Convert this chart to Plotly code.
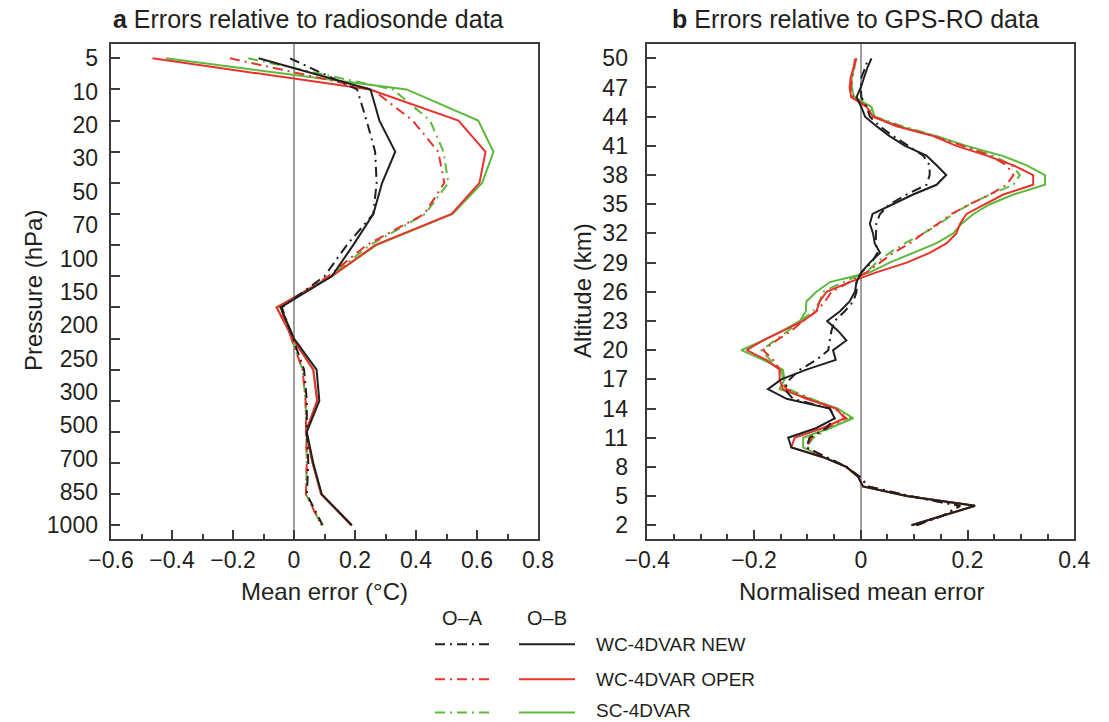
import plotly.graph_objects as go

W, H = 1109, 722

# ---------------- Panel a: radiosonde (16 levels, top -> bottom) ----------------
pressure_labels = ["5", "10", "20", "30", "50", "70", "100", "150", "200",
                   "250", "300", "500", "700", "850", "1000"]
level_index = list(range(16))  # analysed levels, 0 = top (5 hPa)

a_new_ob = [-0.116, 0.251, 0.280, 0.332, 0.289, 0.260, 0.194, 0.124,
            -0.044, 0.000, 0.074, 0.083, 0.042, 0.063, 0.091, 0.190]
a_new_oa = [-0.013, 0.207, 0.238, 0.266, 0.271, 0.260, 0.173, 0.100,
            -0.040, -0.004, 0.033, 0.042, 0.042, 0.047, 0.042, 0.094]
a_oper_ob = [-0.464, 0.249, 0.539, 0.628, 0.608, 0.517, 0.266, 0.124,
             -0.057, -0.004, 0.063, 0.076, 0.039, 0.061, 0.089, 0.188]
a_oper_oa = [-0.210, 0.257, 0.389, 0.473, 0.493, 0.427, 0.238, 0.112,
             -0.045, -0.008, 0.028, 0.038, 0.039, 0.042, 0.039, 0.090]
a_sc_ob = [-0.420, 0.369, 0.604, 0.654, 0.617, 0.520, 0.270, 0.124,
           -0.057, -0.004, 0.063, 0.076, 0.039, 0.061, 0.089, 0.188]
a_sc_oa = [-0.150, 0.325, 0.446, 0.490, 0.506, 0.430, 0.249, 0.118,
           -0.045, -0.008, 0.028, 0.038, 0.039, 0.042, 0.039, 0.090]

# ---------------- Panel b: GPS-RO (altitude 2..50 km) ----------------
altitude_km = list(range(2, 51))
altitude_ticks = list(range(2, 51, 3))

b_new_ob = [0.095, 0.154, 0.214, 0.086, 0.004, -0.005, -0.027, -0.071, -0.130, -0.136,
            -0.083, -0.049, -0.058, -0.139, -0.174, -0.149, -0.102, -0.047, -0.052, -0.027,
            -0.043, -0.063, -0.039, -0.021, -0.011, -0.008, 0.001, 0.017, 0.036, 0.026,
            0.023, 0.017, 0.022, 0.060, 0.098, 0.142, 0.160, 0.142, 0.123, 0.083,
            0.054, 0.030, 0.008, 0.001, -0.008, 0.000, 0.006, 0.012, 0.020]
b_new_oa = [0.104, 0.154, 0.186, 0.092, 0.014, -0.002, -0.027, -0.064, -0.102, -0.096,
            -0.064, -0.049, -0.058, -0.127, -0.143, -0.133, -0.114, -0.083, -0.061, -0.058,
            -0.055, -0.049, -0.030, -0.014, -0.008, -0.008, 0.001, 0.020, 0.031, 0.028,
            0.029, 0.029, 0.036, 0.054, 0.086, 0.123, 0.129, 0.129, 0.117, 0.089,
            0.061, 0.036, 0.017, 0.011, 0.001, 0.000, 0.001, 0.008, 0.014]
b_oper_ob = [0.095, 0.154, 0.214, 0.086, 0.004, -0.005, -0.027, -0.070, -0.130, -0.124,
             -0.071, -0.030, -0.046, -0.102, -0.146, -0.152, -0.152, -0.177, -0.214, -0.183,
             -0.146, -0.108, -0.083, -0.077, -0.064, -0.021, 0.029, 0.086, 0.129, 0.161,
             0.179, 0.186, 0.198, 0.233, 0.267, 0.323, 0.323, 0.286, 0.236, 0.179,
             0.136, 0.067, 0.023, 0.011, -0.018, -0.021, -0.019, -0.014, -0.008]
b_oper_oa = [0.104, 0.154, 0.186, 0.092, 0.014, -0.002, -0.027, -0.064, -0.103, -0.092,
             -0.064, -0.027, -0.049, -0.099, -0.139, -0.152, -0.152, -0.164, -0.183, -0.158,
             -0.130, -0.108, -0.083, -0.067, -0.055, -0.021, 0.011, 0.036, 0.061, 0.092,
             0.117, 0.145, 0.170, 0.204, 0.242, 0.273, 0.286, 0.273, 0.242, 0.192,
             0.136, 0.073, 0.023, 0.011, -0.014, -0.019, -0.017, -0.013, -0.011]
b_sc_ob = [0.095, 0.154, 0.214, 0.086, 0.004, -0.005, -0.027, -0.070, -0.108, -0.108,
           -0.058, -0.014, -0.043, -0.096, -0.152, -0.143, -0.146, -0.183, -0.224, -0.183,
           -0.146, -0.114, -0.103, -0.102, -0.083, -0.058, 0.017, 0.054, 0.098, 0.142,
           0.173, 0.189, 0.211, 0.242, 0.286, 0.345, 0.345, 0.311, 0.264, 0.198,
           0.142, 0.073, 0.026, 0.020, -0.012, -0.018, -0.017, -0.013, -0.009]
b_sc_oa = [0.104, 0.154, 0.186, 0.092, 0.014, -0.002, -0.027, -0.064, -0.102, -0.089,
           -0.058, -0.017, -0.046, -0.092, -0.136, -0.146, -0.148, -0.170, -0.186, -0.161,
           -0.136, -0.114, -0.089, -0.077, -0.071, -0.033, 0.011, 0.029, 0.054, 0.083,
           0.117, 0.148, 0.173, 0.204, 0.242, 0.286, 0.298, 0.283, 0.248, 0.192,
           0.142, 0.079, 0.026, 0.016, -0.012, -0.017, -0.016, -0.012, -0.010]

series_names = ["WC-4DVAR NEW", "WC-4DVAR OPER", "SC-4DVAR"]
colors = {"WC-4DVAR NEW": "#231f20", "WC-4DVAR OPER": "#e8332c", "SC-4DVAR": "#5cb93c"}
DASHDOT = "10px,5px,2px,5px"
FONT = "Liberation Sans, Arial, sans-serif"
TXT = "#231f20"

fig = go.Figure()

a_data = {"WC-4DVAR NEW": (a_new_oa, a_new_ob),
          "WC-4DVAR OPER": (a_oper_oa, a_oper_ob),
          "SC-4DVAR": (a_sc_oa, a_sc_ob)}
b_data = {"WC-4DVAR NEW": (b_new_oa, b_new_ob),
          "WC-4DVAR OPER": (b_oper_oa, b_oper_ob),
          "SC-4DVAR": (b_sc_oa, b_sc_ob)}

for name in ["SC-4DVAR", "WC-4DVAR OPER", "WC-4DVAR NEW"]:
    oa, ob = a_data[name]
    fig.add_trace(go.Scatter(x=oa, y=level_index, mode="lines", xaxis="x", yaxis="y",
                             line=dict(color=colors[name], width=2, dash=DASHDOT),
                             showlegend=False, name=name + " O-A"))
    fig.add_trace(go.Scatter(x=ob, y=level_index, mode="lines", xaxis="x", yaxis="y",
                             line=dict(color=colors[name], width=2),
                             showlegend=False, name=name + " O-B"))
for name in ["SC-4DVAR", "WC-4DVAR OPER", "WC-4DVAR NEW"]:
    oa, ob = b_data[name]
    fig.add_trace(go.Scatter(x=oa, y=altitude_km, mode="lines", xaxis="x2", yaxis="y2",
                             line=dict(color=colors[name], width=2, dash=DASHDOT),
                             showlegend=False, name=name + " O-A"))
    fig.add_trace(go.Scatter(x=ob, y=altitude_km, mode="lines", xaxis="x2", yaxis="y2",
                             line=dict(color=colors[name], width=2),
                             showlegend=False, name=name + " O-B"))

# geometry (pixels)
ax_l, ax_r = 111, 538
bx_l, bx_r = 647.3, 1074.3
p_top, p_bot = 44, 539
ydom = [1 - p_bot / H, 1 - p_top / H]

n_lab = len(pressure_labels)
label_pos = [i * (len(level_index) - 1) / (n_lab - 1) for i in range(n_lab)]
a_range = [15.44, -0.46]

# invisible carrier trace so the pressure-label axis (y3) is drawn
fig.add_trace(go.Scatter(x=[0] * n_lab, y=label_pos, xaxis="x", yaxis="y3", mode="markers",
                         marker=dict(opacity=0, size=1), hoverinfo="skip", showlegend=False))

TICKF = dict(family=FONT, size=23, color=TXT)
frame = dict(showline=True, linecolor="#3c3c3c", linewidth=1.5, mirror=True,
             showgrid=False, tickcolor="#3c3c3c", tickwidth=1.5, tickfont=TICKF)

fig.update_layout(
    width=W, height=H, margin=dict(l=0, r=0, t=0, b=0, autoexpand=False),
    plot_bgcolor="white", paper_bgcolor="white", showlegend=False,
    xaxis=dict(domain=[ax_l / W, ax_r / W], anchor="y", range=[-0.6, 0.8],
               tickvals=[-0.6, -0.4, -0.2, 0, 0.2, 0.4, 0.6, 0.8],
               ticks="inside", ticklen=9, ticklabelstandoff=0,
               minor=dict(dtick=0.1, ticks="inside", ticklen=5, tickcolor="#3c3c3c", tickwidth=1.5),
               zeroline=True, zerolinecolor="#a0a0a0", zerolinewidth=1.5, **frame),
    yaxis=dict(domain=ydom, anchor="x", range=a_range, tickvals=level_index,
               ticktext=[""] * len(level_index), ticks="inside", ticklen=9,
               zeroline=False, **frame),
    yaxis3=dict(overlaying="y", anchor="x", side="left", range=a_range,
                tickvals=label_pos, ticktext=pressure_labels, ticks="",
                showline=False, showgrid=False, zeroline=False, ticklabelstandoff=12,
                tickfont=TICKF),
    xaxis2=dict(domain=[bx_l / W, bx_r / W], anchor="y2", range=[-0.4, 0.4],
                tickvals=[-0.4, -0.2, 0, 0.2, 0.4],
                ticks="inside", ticklen=9, ticklabelstandoff=0,
                minor=dict(dtick=0.05, ticks="inside", ticklen=5, tickcolor="#3c3c3c", tickwidth=1.5),
                zeroline=True, zerolinecolor="#a0a0a0", zerolinewidth=1.5, **frame),
    yaxis2=dict(domain=ydom, anchor="x2", range=[0.59, 51.47], tickvals=altitude_ticks,
                ticks="inside", ticklen=9, ticklabelstandoff=13, zeroline=False, **frame),
)

def px(x):
    return x / W

def py(y):
    return 1 - y / H

ann = []
ann.append(dict(x=px(111), y=py(19), xref="paper", yref="paper", xanchor="left", yanchor="middle",
                text="<b>a</b> Errors relative to radiosonde data", showarrow=False,
                font=dict(family=FONT, size=25, color=TXT)))
ann.append(dict(x=px(670), y=py(19), xref="paper", yref="paper", xanchor="left", yanchor="middle",
                text="<b>b</b> Errors relative to GPS-RO data", showarrow=False,
                font=dict(family=FONT, size=25, color=TXT)))
ann.append(dict(x=px(324.5), y=py(591), xref="paper", yref="paper", xanchor="center", yanchor="middle",
                text="Mean error (°C)", showarrow=False, font=dict(family=FONT, size=24, color=TXT)))
ann.append(dict(x=px(861), y=py(591), xref="paper", yref="paper", xanchor="center", yanchor="middle",
                text="Normalised mean error", showarrow=False, font=dict(family=FONT, size=24, color=TXT)))
ann.append(dict(x=px(33), y=py(291), xref="paper", yref="paper", xanchor="center", yanchor="middle",
                text="Pressure (hPa)", textangle=-90, showarrow=False,
                font=dict(family=FONT, size=24, color=TXT)))
ann.append(dict(x=px(582), y=py(291), xref="paper", yref="paper", xanchor="center", yanchor="middle",
                text="Altitude (km)", textangle=-90, showarrow=False,
                font=dict(family=FONT, size=24, color=TXT)))

# legend (drawn manually as in the original)
ann.append(dict(x=px(462.5), y=py(618), xref="paper", yref="paper", xanchor="center", yanchor="middle",
                text="O–A", showarrow=False, font=dict(family=FONT, size=20, color=TXT)))
ann.append(dict(x=px(546.5), y=py(618), xref="paper", yref="paper", xanchor="center", yanchor="middle",
                text="O–B", showarrow=False, font=dict(family=FONT, size=20, color=TXT)))
shapes = []
row_y = [644.3, 679.3, 712.5]
text_y = [644.3, 679.3, 710.0]
for name, yy, ty in zip(series_names, row_y, text_y):
    shapes.append(dict(type="line", xref="paper", yref="paper", x0=px(435), x1=px(490),
                       y0=py(yy), y1=py(yy), line=dict(color=colors[name], width=2, dash=DASHDOT)))
    shapes.append(dict(type="line", xref="paper", yref="paper", x0=px(519), x1=px(575),
                       y0=py(yy), y1=py(yy), line=dict(color=colors[name], width=2)))
    ann.append(dict(x=px(595), y=py(ty), xref="paper", yref="paper", xanchor="left", yanchor="middle",
                    text=name, showarrow=False, borderpad=0,
                    font=dict(family=FONT, size=19, color=TXT)))

fig.update_layout(annotations=ann, shapes=shapes)
fig.write_html("out.html")
